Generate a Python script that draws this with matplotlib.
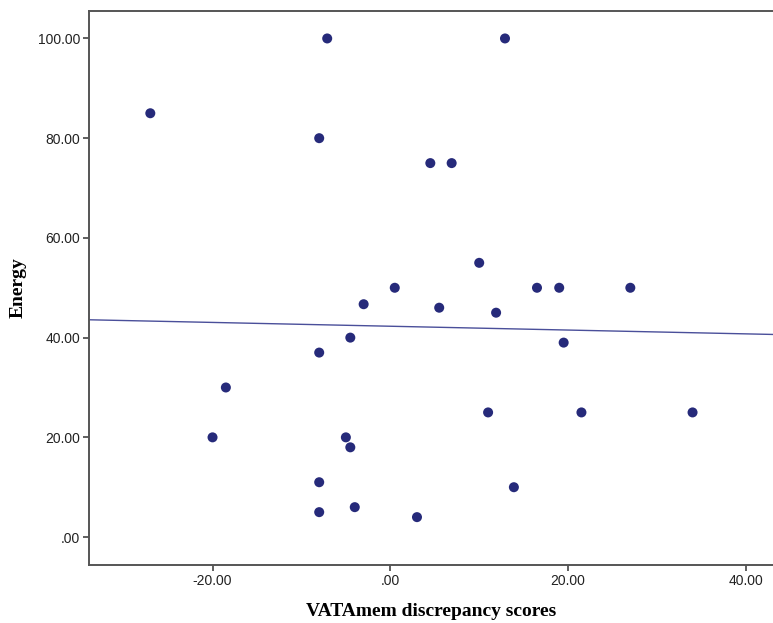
import numpy as np
import matplotlib.pyplot as plt

# VATAmem discrepancy scores vs Energy
discrepancy = [-27.0, -7.1, 12.9, -8.0, 4.5, 6.9, 10.0, 0.5, 16.5, 19.0,
               27.0, -3.0, 5.5, 11.9, -4.5, 19.5, -8.0, -18.5, -20.0, -5.0,
               -4.5, 11.0, 21.5, 34.0, -8.0, 13.9, -8.0, -4.0, 3.0]
energy = [85, 100, 100, 80, 75, 75, 55, 50, 50, 50,
          50, 46.7, 46, 45, 40, 39, 37, 30, 20, 20,
          18, 25, 25, 25, 11, 10, 5, 6, 4]

x_ticks = [-20, 0, 20, 40]
y_ticks = [0, 20, 40, 60, 80, 100]

fig = plt.figure(figsize=(7.73, 6.23), dpi=100)
# the right side of the plot box is cut off by the image edge
ax = fig.add_axes([0.1151, 0.0931, 0.8849, 0.8892])

x = np.array(discrepancy)
y = np.array(energy)
slope, intercept = np.polyfit(x, y, 1)
xlim = (-33.9, 43.05)
xs = np.array(xlim)
ax.plot(xs, intercept + slope * xs, color="#4a4f9a", lw=1.0, zorder=2)

ax.scatter(x, y, s=52, color="#262a7a", edgecolors="none", zorder=3)

ax.set_xlim(*xlim)
ax.set_ylim(-5.6, 105.5)


def fmt(v):
    s = "%.2f" % v
    if s.startswith("0."):
        s = s[1:]
    return s


ax.set_xticks(x_ticks)
ax.set_xticklabels([fmt(v) for v in x_ticks])
ax.set_yticks(y_ticks)
ax.set_yticklabels([fmt(v) for v in y_ticks])

for lab in ax.get_xticklabels() + ax.get_yticklabels():
    lab.set_fontfamily("Liberation Sans")
    lab.set_fontsize(10)
    lab.set_color("#222222")

ax.tick_params(direction="out", length=4.5, width=1.2, color="#444444", pad=2)

for side in ["left", "bottom", "top"]:
    ax.spines[side].set_color("#555555")
    ax.spines[side].set_linewidth(1.4)
ax.spines["right"].set_visible(False)

ax.set_xlabel("VATAmem discrepancy scores", fontfamily="Liberation Serif",
              fontweight="bold", fontsize=14, labelpad=11)
ax.set_ylabel("Energy", fontfamily="Liberation Serif",
              fontweight="bold", fontsize=14, labelpad=8)

fig.savefig("out.png", dpi=100)
